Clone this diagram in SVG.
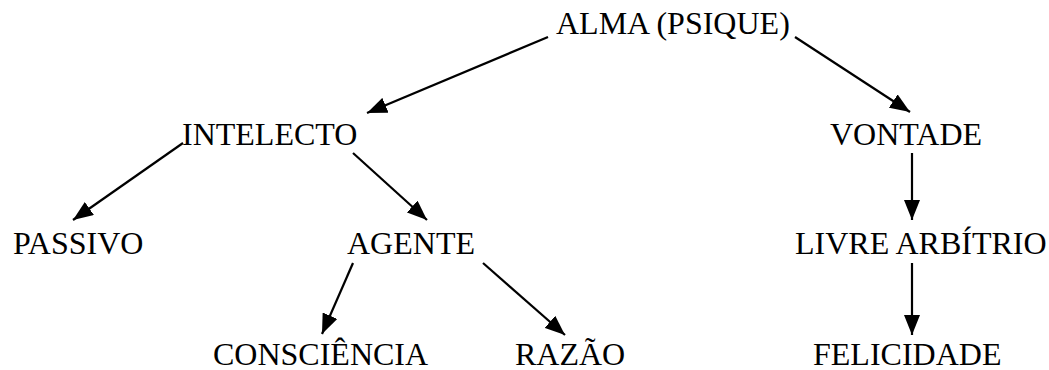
<svg xmlns="http://www.w3.org/2000/svg" width="1049" height="370" viewBox="0 0 1049 370">
<style>
text{font-family:"Liberation Serif","Times New Roman",serif;font-size:32px;fill:#000}
.c line{stroke:#000;stroke-width:2.2;fill:none}
</style>
<defs>
<marker id="ah" markerUnits="userSpaceOnUse" markerWidth="22" markerHeight="16" refX="20" refY="8" orient="auto">
<path d="M0,0 L20,8 L0,16 Z" fill="#000"/>
</marker>
</defs>
<rect width="1049" height="370" fill="#fff"/>
<g id="n-alma"><text x="556" y="34">ALMA (PSIQUE)</text></g>
<g id="n-intelecto"><text x="182" y="145">INTELECTO</text></g>
<g id="n-vontade"><text x="830" y="145">VONTADE</text></g>
<g id="n-passivo"><text x="13" y="254">PASSIVO</text></g>
<g id="n-agente"><text x="347" y="254">AGENTE</text></g>
<g id="n-livre"><text x="795" y="254">LIVRE ARBÍTRIO</text></g>
<g id="n-consciencia"><text x="213" y="365">CONSCIÊNCIA</text></g>
<g id="n-razao"><text x="515" y="365">RAZÃO</text></g>
<g id="n-felicidade"><text x="813" y="365">FELICIDADE</text></g>
<g class="c" id="connectors">
<line x1="548" y1="37" x2="367" y2="113" marker-end="url(#ah)"/>
<line x1="795" y1="37" x2="910" y2="112" marker-end="url(#ah)"/>
<line x1="183" y1="143" x2="73" y2="220" marker-end="url(#ah)"/>
<line x1="353" y1="153" x2="427" y2="220" marker-end="url(#ah)"/>
<line x1="353" y1="263" x2="322" y2="334" marker-end="url(#ah)"/>
<line x1="483" y1="263" x2="565" y2="335" marker-end="url(#ah)"/>
<line x1="912" y1="153" x2="912" y2="220" marker-end="url(#ah)"/>
<line x1="912" y1="263" x2="912" y2="335" marker-end="url(#ah)"/>
</g>
</svg>
